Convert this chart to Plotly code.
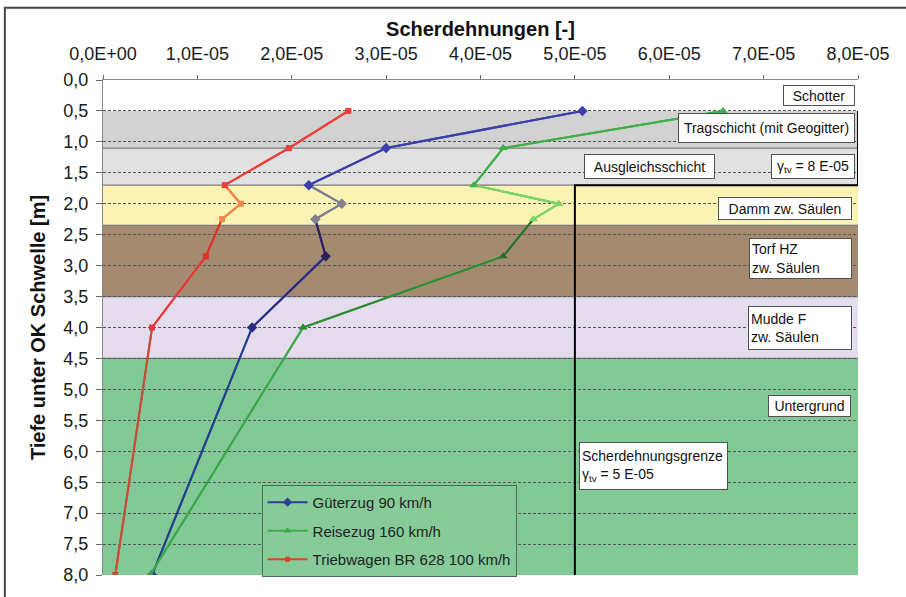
import plotly.graph_objects as go

# Depth of the evaluation points below top of sleeper [m]
depth = [0.5, 1.1, 1.7, 2.0, 2.25, 2.85, 4.0, 8.0]

# Shear strain per train type [-]
gueterzug = [5.08e-05, 3.00e-05, 2.18e-05, 2.53e-05, 2.25e-05, 2.36e-05, 1.58e-05, 0.52e-05]
reisezug = [6.57e-05, 4.24e-05, 3.93e-05, 4.83e-05, 4.56e-05, 4.24e-05, 2.12e-05, 0.50e-05]
triebwagen = [2.60e-05, 1.97e-05, 1.29e-05, 1.46e-05, 1.26e-05, 1.09e-05, 0.52e-05, 0.13e-05]

series_names = ["Güterzug 90 km/h", "Reisezug 160 km/h", "Triebwagen BR 628 100 km/h"]

# Soil layers: (top, bottom, fill colour)
layer_top = [0.0, 0.5, 1.1, 1.7, 2.35, 3.5, 4.5]
layer_bottom = [0.5, 1.1, 1.7, 2.35, 3.5, 4.5, 8.0]
layer_color = ["#ffffff", "#d2d2d2", "#e1e1e1", "#fbf3b4", "#a48a6f", "#e5dcee", "#83c997"]

# Shear strain limits
limit_upper = 8e-05   # upper layers (Schotter .. Ausgleichsschicht)
limit_lower = 5e-05   # below Ausgleichsschicht
limit_depth_top = 0.5
limit_change_depth = 1.7

x_ticks = [0, 1e-05, 2e-05, 3e-05, 4e-05, 5e-05, 6e-05, 7e-05, 8e-05]
x_ticktext = ["0,0E+00", "1,0E-05", "2,0E-05", "3,0E-05", "4,0E-05",
              "5,0E-05", "6,0E-05", "7,0E-05", "8,0E-05"]
y_ticks = [i * 0.5 for i in range(17)]
y_ticktext = [f"{v:.1f}".replace(".", ",") for v in y_ticks]

FONT = "Liberation Sans, Arial, sans-serif"

fig = go.Figure()

# Series styles: main colour, per-segment colours, marker symbol/size
styles = [
    dict(values=gueterzug, color="#2f3f96", symbol="diamond", size=8,
         seg=["#3d3fae", "#3d3fae", "#80808e", "#80808e", "#2a1f5c", "#2c2a80", "#23408a"]),
    dict(values=reisezug, color="#3cae48", symbol="triangle-up", size=8,
         seg=["#3cb04a", "#3cb04a", "#7bd66a", "#7bd66a", "#2c6c2a", "#2f8a34", "#3aa84a"]),
    dict(values=triebwagen, color="#dc4128", symbol="square", size=6,
         seg=["#f03c3c", "#f03c3c", "#f38a4c", "#f38a4c", "#e0302c", "#e8383a", "#c4503a"]),
]

for idx, (name, st) in enumerate(zip(series_names, styles)):
    vals = st["values"]
    marker_cols = [st["seg"][0]] + st["seg"]
    # full series (carries the legend entry)
    fig.add_trace(go.Scatter(
        x=vals, y=depth, mode="lines+markers", name=name,
        legendgroup=f"g{idx}",
        line=dict(color=st["color"], width=2),
        marker=dict(symbol=st["symbol"], size=st["size"] - 1, color=st["color"]),
        hoverinfo="skip",
    ))
    # segment-wise colouring along the soil layers
    for i in range(len(depth) - 1):
        fig.add_trace(go.Scatter(
            x=vals[i:i + 2], y=depth[i:i + 2], mode="lines",
            line=dict(color=st["seg"][i], width=2),
            showlegend=False, hoverinfo="skip", legendgroup=f"g{idx}",
        ))
    fig.add_trace(go.Scatter(
        x=vals, y=depth, mode="markers",
        marker=dict(symbol=st["symbol"], size=st["size"], color=marker_cols),
        showlegend=False, hoverinfo="skip", legendgroup=f"g{idx}",
    ))

shapes = []
# layer bands
for top, bot, col in zip(layer_top, layer_bottom, layer_color):
    shapes.append(dict(type="rect", xref="x", yref="y", x0=0, x1=8e-05,
                       y0=top, y1=bot, fillcolor=col, line=dict(width=0),
                       layer="below"))
# layer boundaries
for b in layer_bottom[1:-1]:
    shapes.append(dict(type="line", xref="x", yref="y", x0=0, x1=8e-05,
                       y0=b, y1=b, line=dict(color="#7a7a7a", width=1.2),
                       layer="below"))
# shear strain limit
shapes.append(dict(
    type="path", xref="x", yref="y",
    path=(f"M {limit_upper},{limit_depth_top} L {limit_upper},{limit_change_depth} "
          f"L {limit_lower},{limit_change_depth} L {limit_lower},8"),
    line=dict(color="#000000", width=2), layer="above"))
# outer frame
shapes.append(dict(type="path", xref="paper", yref="paper",
                   path="M -0.130,-0.05 L -0.130,1.146 L 1.07,1.146",
                   line=dict(color="#444444", width=2)))

fig.update_layout(shapes=shapes)


def box(text, x, y, w, h, xanchor="right", align="center"):
    fig.add_annotation(
        x=x, y=y, xref="x", yref="y", text=text, showarrow=False,
        xanchor=xanchor, yanchor="middle", align=align,
        width=w, height=h, bgcolor="#ffffff", bordercolor="#505050",
        borderwidth=1, borderpad=2,
        font=dict(family=FONT, size=14, color="#111111"))


box("Schotter", 7.97e-05, 0.25, 66, 15)
box("Tragschicht (mit Geogitter)", 7.97e-05, 0.77, 171, 24)
box("Ausgleichsschicht", 5.10e-05, 1.40, 125, 19, xanchor="left")
box("γ<sub>tv</sub> = 8 E-05", 7.97e-05, 1.40, 78, 19)
box("Damm zw. Säulen", 7.94e-05, 2.08, 128, 17)
box("Torf HZ<br>zw. Säulen", 7.94e-05, 2.88, 97, 35, align="left")
box("Mudde F<br>zw. Säulen", 7.94e-05, 4.01, 98, 38, align="left")
box("Untergrund", 7.93e-05, 5.27, 77, 16)
box("Scherdehnungsgrenze<br>γ<sub>tv</sub> = 5 E-05", 5.04e-05, 6.24, 143, 42,
    xanchor="left", align="left")

fig.update_layout(
    width=906, height=597,
    margin=dict(l=103, r=48, t=80, b=18),
    paper_bgcolor="#ffffff", plot_bgcolor="#ffffff",
    font=dict(family=FONT, color="#1a1a1a"),
    showlegend=True,
    legend=dict(x=0.21, y=0.182, xanchor="left", yanchor="top",
                bgcolor="#86cb98", bordercolor="#4f6a55", borderwidth=1,
                font=dict(family=FONT, size=15, color="#222222"),
                tracegroupgap=6, itemwidth=40),
    xaxis=dict(side="top", range=[0, 8e-05], tickvals=x_ticks, ticktext=x_ticktext,
               ticks="outside", ticklen=4, tickcolor="#666666",
               showline=True, linecolor="#888888", showgrid=False, zeroline=False,
               tickfont=dict(size=18, color="#1a1a1a"), ticklabelstandoff=8,
               title=dict(text="<b>Scherdehnungen [-]</b>", standoff=1,
                          font=dict(size=20, color="#111111"))),
    yaxis=dict(range=[8, 0], tickvals=y_ticks, ticktext=y_ticktext,
               ticks="outside", ticklen=6, tickcolor="#666666",
               showline=True, linecolor="#888888", zeroline=False,
               showgrid=True, gridcolor="#555555", gridwidth=1, griddash="3px,2px",
               tickfont=dict(size=18, color="#1a1a1a"), ticklabelstandoff=4,
               title=dict(text="<b>Tiefe unter OK Schwelle [m]</b>", standoff=12,
                          font=dict(size=20, color="#111111"))),
)

fig.write_html("out.html")
